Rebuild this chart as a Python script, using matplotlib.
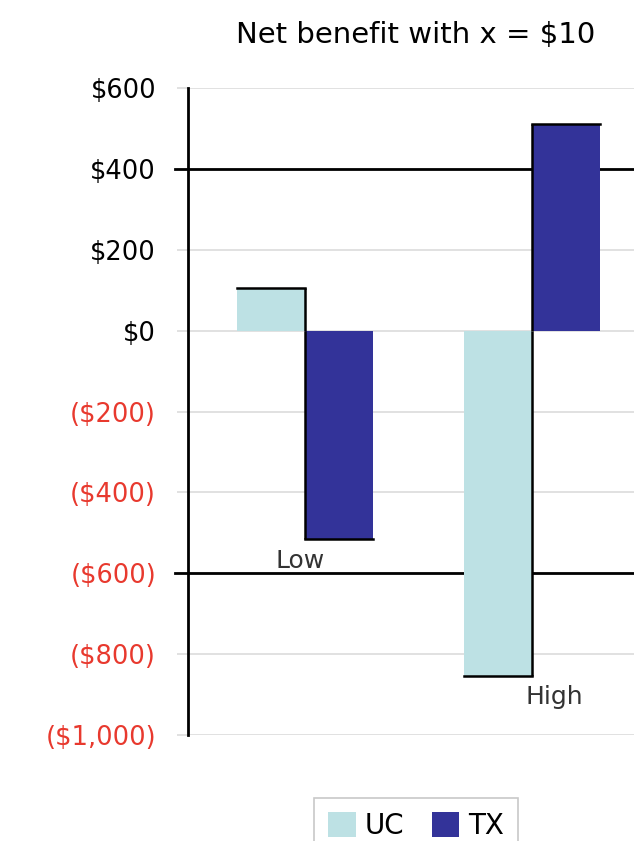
import matplotlib.pyplot as plt
import numpy as np

# Net benefit per scenario for each state
categories = ['Low', 'High']
uc = [105, -855]
tx = [-515, 510]
ticks = [600, 400, 200, 0, -200, -400, -600, -800, -1000]
tick_labels = ['$600', '$400', '$200', '$0', '($200)', '($400)', '($600)', '($800)', '($1,000)']

plt.rcParams['font.family'] = ['DejaVu Sans']

fig = plt.figure(figsize=(6.34, 8.41), dpi=100)
ax = fig.add_axes([188/634, 1 - 735/841, 1 - 188/634, (735 - 88)/841])

x = np.arange(len(categories))
width = 0.3

uc_bars = ax.bar(x - width/2, uc, width, color='#bde1e4', label='UC', zorder=3)
tx_bars = ax.bar(x + width/2, tx, width, color='#333399', label='TX', zorder=3)

# dark edges along the shared inner side and the far end of each bar
for bars, inner in ((uc_bars, 'right'), (tx_bars, 'left')):
    for b in bars:
        x0, x1 = b.get_x(), b.get_x() + b.get_width()
        h = b.get_height()
        xi = x1 if inner == 'right' else x0
        ax.plot([xi, xi], [0, h], color='black', lw=1.8, zorder=4, solid_capstyle='butt')
        ax.plot([x0, x1], [h, h], color='black', lw=1.8, zorder=4, solid_capstyle='projecting')

ax.set_ylim(-1000, 600)
ax.set_xlim(-0.515, 1.45)
ax.set_yticks(ticks)
ax.set_yticklabels(tick_labels, fontsize=18.5)
for lbl, v in zip(ax.get_yticklabels(), ticks):
    lbl.set_color('#e8392e' if v < 0 else 'black')
ax.set_xticks([])

ax.grid(axis='y', color='#dcdcdc', lw=1.2, zorder=0)
ax.tick_params(axis='y', length=8, width=1.2, color='#dcdcdc', pad=15)
for s in ('top', 'right', 'bottom'):
    ax.spines[s].set_visible(False)
ax.spines['left'].set_linewidth(2)
ax.spines['left'].set_zorder(5)

# heavy reference lines
for level in (400, -600):
    ax.axhline(level, xmin=-0.03, xmax=1, color='black', lw=2, zorder=2, clip_on=False)

ax.text(-0.02, -600, categories[0], ha='center', va='bottom', fontsize=18, color='#333333')
ax.text(1.1, -905, categories[1], ha='center', va='center', fontsize=18, color='#333333')

fig.text(0.655, 0.958, 'Net benefit with x = $10', ha='center', va='center', fontsize=21)

leg = fig.legend(loc='upper center', bbox_to_anchor=(0.656, 0.068), ncol=2,
                 fontsize=20, handlelength=1.0, handleheight=1.0, handletextpad=0.3,
                 columnspacing=1.0, borderpad=0.5, fancybox=False, edgecolor='#bbbbbb')
leg.get_frame().set_linewidth(1.2)

fig.savefig('out.png', dpi=100)
